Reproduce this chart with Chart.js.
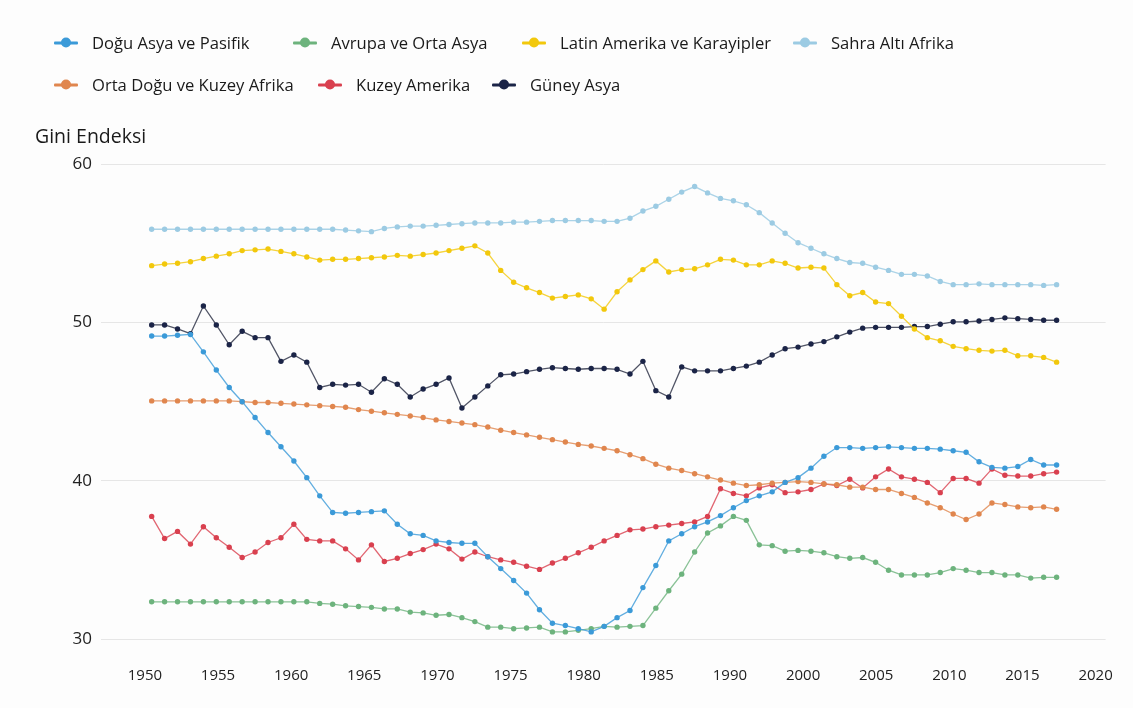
<!DOCTYPE html>
<html lang="tr">
<head>
<meta charset="utf-8">
<script src="https://cdn.jsdelivr.net/npm/chart.js@4.4.0/dist/chart.umd.min.js"></script>
<style>
  html, body { margin: 0; padding: 0; background: #fdfdfd; }
  .wrap { position: relative; width: 1133px; height: 708px; font-family: 'Open Sans', sans-serif; }
  #chart { position: absolute; left: 0; top: 0; }
  .legend-item { position: absolute; display: flex; align-items: center; font-size: 16.6px; color: #1a1a1a; white-space: nowrap; transform: translateY(-50%); }
  .legend-item .mk { position: relative; width: 24px; height: 10px; margin-right: 14px; }
  .mk .ln { position: absolute; left: 0; right: 0; top: 4px; height: 3px; border-radius: 1px; }
  .mk .dt { position: absolute; left: 7px; top: 0; width: 10px; height: 10px; border-radius: 50%; }
</style>
</head>
<body>
<div class="wrap">
  <canvas id="chart" width="1133" height="708"></canvas>
  <div id="legend"></div>
</div>
<script>
const years = [
  1950, 1951, 1952, 1953, 1954, 1955, 1956, 1957, 1958, 1959,
  1960, 1961, 1962, 1963, 1964, 1965, 1966, 1967, 1968, 1969,
  1970, 1971, 1972, 1973, 1974, 1975, 1976, 1977, 1978, 1979,
  1980, 1981, 1982, 1983, 1984, 1985, 1986, 1987, 1988, 1989,
  1990, 1991, 1992, 1993, 1994, 1995, 1996, 1997, 1998, 1999,
  2000, 2001, 2002, 2003, 2004, 2005, 2006, 2007, 2008, 2009,
  2010, 2011, 2012, 2013, 2014, 2015, 2016, 2017, 2018, 2019, 2020
];

// x-axis labels as printed on the original (note: no 1995)
const tickLabels = ['1950', '1955', '1960', '1965', '1970', '1975', '1980', '1985', '1990', '2000', '2005', '2010', '2015', '2020'];
const yTicks = [30, 40, 50, 60];

const doguAsya = [
  49.15, 49.15, 49.2, 49.25, 48.15, 47.0, 45.9, 45.0, 44.0, 43.05,
  42.15, 41.25, 40.2, 39.05, 38.0, 37.95, 38.0, 38.05, 38.1, 37.25,
  36.65, 36.55, 36.2, 36.1, 36.05, 36.05, 35.2, 34.45, 33.7, 32.9,
  31.85, 31.0, 30.85, 30.65, 30.45, 30.8, 31.35, 31.8, 33.25, 34.65,
  36.2, 36.65, 37.1, 37.4, 37.8, 38.3, 38.75, 39.05, 39.3, 39.9,
  40.2, 40.8, 41.55, 42.1, 42.1, 42.05, 42.1, 42.15, 42.1, 42.05,
  42.05, 42.0, 41.9, 41.8, 41.2, 40.85, 40.8, 40.9, 41.35, 41.0, 41.0
];

const avrupa = [
  32.35, 32.35, 32.35, 32.35, 32.35, 32.35, 32.35, 32.35, 32.35, 32.35,
  32.35, 32.35, 32.35, 32.25, 32.2, 32.1, 32.05, 32.0, 31.9, 31.9,
  31.7, 31.65, 31.5, 31.55, 31.35, 31.1, 30.75, 30.75, 30.65, 30.7,
  30.75, 30.45, 30.45, 30.55, 30.65, 30.8, 30.75, 30.8, 30.85, 31.95,
  33.05, 34.1, 35.5, 36.7, 37.15, 37.75, 37.5, 35.95, 35.9, 35.55,
  35.6, 35.55, 35.45, 35.2, 35.1, 35.15, 34.85, 34.35, 34.05, 34.05,
  34.05, 34.2, 34.45, 34.35, 34.2, 34.2, 34.05, 34.05, 33.85, 33.9, 33.9
];

const latinAmerika = [
  53.6, 53.7, 53.75, 53.85, 54.05, 54.2, 54.35, 54.55, 54.6, 54.65,
  54.5, 54.35, 54.15, 53.95, 54.0, 54.0, 54.05, 54.1, 54.15, 54.25,
  54.2, 54.3, 54.4, 54.55, 54.7, 54.85, 54.4, 53.3, 52.55, 52.2,
  51.9, 51.55, 51.65, 51.75, 51.5, 50.85, 51.95, 52.7, 53.35, 53.9,
  53.2, 53.35, 53.4, 53.65, 54.0, 53.95, 53.65, 53.65, 53.9, 53.75,
  53.45, 53.5, 53.45, 52.4, 51.7, 51.9, 51.3, 51.2, 50.4, 49.6,
  49.05, 48.85, 48.5, 48.35, 48.25, 48.2, 48.25, 47.9, 47.9, 47.8, 47.5
];

const sahraAltiAfrika = [
  55.9, 55.9, 55.9, 55.9, 55.9, 55.9, 55.9, 55.9, 55.9, 55.9,
  55.9, 55.9, 55.9, 55.9, 55.9, 55.85, 55.8, 55.75, 55.95, 56.05,
  56.1, 56.1, 56.15, 56.2, 56.25, 56.3, 56.3, 56.3, 56.35, 56.35,
  56.4, 56.45, 56.45, 56.45, 56.45, 56.4, 56.4, 56.6, 57.05, 57.35,
  57.8, 58.25, 58.6, 58.2, 57.85, 57.7, 57.45, 56.95, 56.3, 55.65,
  55.05, 54.7, 54.35, 54.05, 53.8, 53.75, 53.5, 53.3, 53.05, 53.05,
  52.95, 52.6, 52.4, 52.4, 52.45, 52.4, 52.4, 52.4, 52.4, 52.35, 52.4
];

const ortaDogu = [
  45.05, 45.05, 45.05, 45.05, 45.05, 45.05, 45.05, 45.0, 44.95, 44.95,
  44.9, 44.85, 44.8, 44.75, 44.7, 44.65, 44.5, 44.4, 44.3, 44.2,
  44.1, 44.0, 43.85, 43.75, 43.65, 43.55, 43.4, 43.2, 43.05, 42.9,
  42.75, 42.6, 42.45, 42.3, 42.2, 42.05, 41.9, 41.65, 41.4, 41.05,
  40.8, 40.65, 40.45, 40.25, 40.05, 39.85, 39.7, 39.75, 39.85, 39.9,
  39.95, 39.9, 39.8, 39.75, 39.6, 39.6, 39.45, 39.45, 39.2, 38.95,
  38.6, 38.3, 37.9, 37.55, 37.9, 38.6, 38.5, 38.35, 38.3, 38.35, 38.2
];

const kuzeyAmerika = [
  37.75, 36.35, 36.8, 36.0, 37.1, 36.4, 35.8, 35.15, 35.5, 36.1,
  36.4, 37.25, 36.3, 36.2, 36.2, 35.7, 35.0, 35.95, 34.9, 35.1,
  35.4, 35.65, 36.0, 35.7, 35.05, 35.5, 35.2, 35.0, 34.85, 34.6,
  34.4, 34.8, 35.1, 35.45, 35.8, 36.2, 36.55, 36.9, 36.95, 37.1,
  37.2, 37.3, 37.4, 37.75, 39.5, 39.2, 39.05, 39.55, 39.75, 39.25,
  39.3, 39.45, 39.8, 39.7, 40.1, 39.55, 40.25, 40.75, 40.25, 40.1,
  39.9, 39.25, 40.15, 40.15, 39.85, 40.75, 40.35, 40.3, 40.3, 40.45, 40.55
];

const guneyAsya = [
  49.85, 49.85, 49.6, 49.3, 51.05, 49.85, 48.6, 49.45, 49.05, 49.05,
  47.55, 47.95, 47.5, 45.9, 46.1, 46.05, 46.1, 45.6, 46.45, 46.1,
  45.3, 45.8, 46.1, 46.5, 44.6, 45.3, 46.0, 46.7, 46.75, 46.9,
  47.05, 47.15, 47.1, 47.05, 47.1, 47.1, 47.05, 46.75, 47.55, 45.7,
  45.3, 47.2, 46.95, 46.95, 46.95, 47.1, 47.25, 47.5, 47.95, 48.35,
  48.45, 48.65, 48.8, 49.1, 49.4, 49.65, 49.7, 49.7, 49.7, 49.75,
  49.75, 49.9, 50.05, 50.05, 50.1, 50.2, 50.3, 50.25, 50.2, 50.15, 50.15
];

const series = [
  { label: 'Doğu Asya ve Pasifik', values: doguAsya, color: '#3b9ad8', line: 'rgba(59,154,216,0.8)' },
  { label: 'Avrupa ve Orta Asya', values: avrupa, color: '#6db37d', line: 'rgba(109,179,125,0.8)' },
  { label: 'Latin Amerika ve Karayipler', values: latinAmerika, color: '#f2c80c', line: 'rgba(242,200,12,0.8)' },
  { label: 'Sahra Altı Afrika', values: sahraAltiAfrika, color: '#9ccbe3', line: 'rgba(156,203,227,0.85)' },
  { label: 'Orta Doğu ve Kuzey Afrika', values: ortaDogu, color: '#e0864e', line: 'rgba(224,134,78,0.8)' },
  { label: 'Kuzey Amerika', values: kuzeyAmerika, color: '#d9404f', line: 'rgba(217,64,79,0.8)' },
  { label: 'Güney Asya', values: guneyAsya, color: '#1b2447', line: 'rgba(50,55,75,0.85)' }
];

// legend layout: [left of marker, vertical centre]
const legendPos = [[54, 42], [293, 42], [522, 42], [793, 42], [54, 84], [318, 84], [492, 84]];

const legend = document.getElementById('legend');
series.forEach((s, i) => {
  const item = document.createElement('div');
  item.className = 'legend-item';
  item.style.left = legendPos[i][0] + 'px';
  item.style.top = legendPos[i][1] + 'px';
  item.innerHTML = `<span class="mk"><span class="ln" style="background:${s.color}"></span><span class="dt" style="background:${s.color}"></span></span><span>${s.label}</span>`;
  legend.appendChild(item);
});

const ctx = document.getElementById('chart').getContext('2d');
new Chart(ctx, {
  type: 'line',
  data: {
    datasets: series.map(s => ({
      label: s.label,
      data: years.map((yr, i) => ({ x: yr, y: s.values[i] })),
      borderColor: s.line,
      backgroundColor: s.color,
      pointBackgroundColor: s.color,
      pointBorderWidth: 0,
      pointRadius: 2.7,
      borderWidth: 1.3,
      tension: 0,
      xAxisID: 'x',
      yAxisID: 'y'
    }))
  },
  options: {
    responsive: false,
    animation: false,
    layout: { padding: { left: 35, right: 27, top: 118, bottom: 0 } },
    scales: {
      x: {
        type: 'linear',
        display: false,
        min: 1946.08,
        max: 2023.79
      },
      xl: {
        type: 'linear',
        position: 'bottom',
        min: -0.6,
        max: 13.137,
        grid: { display: false },
        border: { display: false },
        afterBuildTicks: scale => { scale.ticks = tickLabels.map((_, i) => ({ value: i })); },
        ticks: {
          autoSkip: false,
          maxRotation: 0,
          padding: 20,
          color: '#222',
          font: { family: 'Open Sans', size: 15 },
          callback: v => tickLabels[v]
        },
        afterFit: scale => { scale.height = 69; }
      },
      y: {
        min: 30,
        max: 60,
        afterBuildTicks: scale => { scale.ticks = yTicks.map(v => ({ value: v })); },
        grid: { color: '#e6e6e6', drawTicks: false },
        border: { display: false },
        ticks: {
          padding: 9,
          color: '#222',
          font: { family: 'Open Sans', size: 17 }
        },
        afterFit: scale => { scale.width = 66; }
      }
    },
    plugins: {
      legend: { display: false },
      tooltip: { enabled: false },
      title: {
        display: true,
        text: 'Gini Endeksi',
        align: 'start',
        color: '#1a1a1a',
        font: { family: 'Open Sans', size: 19.5, weight: 'normal' },
        padding: { top: 8, bottom: 15 }
      }
    }
  }
});
</script>
</body>
</html>
